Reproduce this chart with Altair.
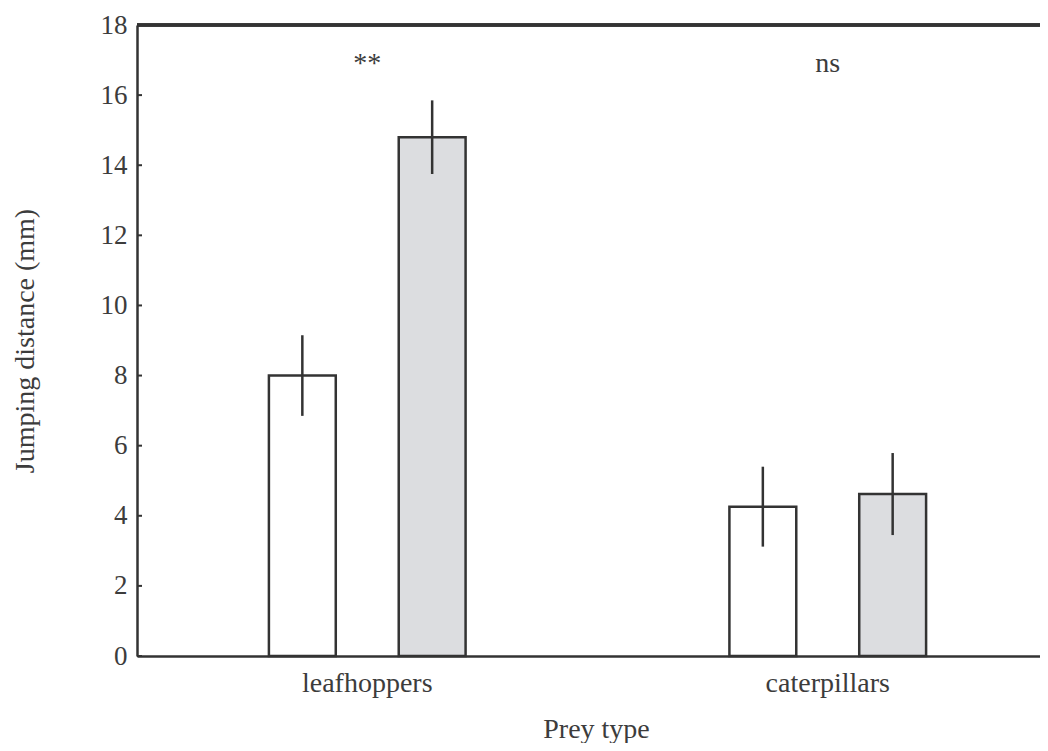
import altair as alt
import pandas as pd

prey = ["leafhoppers", "leafhoppers", "caterpillars", "caterpillars"]
group = ["A", "B", "A", "B"]
mean = [8.0, 14.8, 4.26, 4.62]
err = [1.15, 1.05, 1.14, 1.17]

cats = ["leafhoppers", "caterpillars"]
annot = ["**", "ns"]
yticks = [0, 2, 4, 6, 8, 10, 12, 14, 16, 18]

df = pd.DataFrame({"prey": prey, "group": group, "mean": mean, "err": err})
df["lo"] = df["mean"] - df["err"]
df["hi"] = df["mean"] + df["err"]
ann = pd.DataFrame({"prey": cats, "label": annot})
tk = pd.DataFrame({"v": yticks})

FONT = "Liberation Serif"
INK = "#333333"
TXT = "#3c3c3c"
FS = 28
W, H = 903, 631

xs = alt.Scale(domain=cats, range=[0, 921], paddingInner=0.3, paddingOuter=0.15)
xo = alt.Scale(domain=["A", "B"], paddingInner=0.485, paddingOuter=0.484)
ys = alt.Scale(domain=[0, 18], nice=False)

xaxis = alt.Axis(title="Prey type", labelFont=FONT, labelFontSize=FS, labelColor=TXT,
                 labelPadding=13, ticks=False, domainColor=INK, domainWidth=2.5,
                 labelAngle=0, titleFont=FONT, titleFontSize=FS, titleFontWeight="normal",
                 titleColor=TXT, titleX=459, titleY=81, titleBaseline="alphabetic",
                 titleAlign="center")
yaxis = alt.Axis(title="Jumping distance (mm)", values=yticks, labelFont=FONT,
                 labelFontSize=27, labelColor=TXT, labelPadding=10, ticks=False,
                 grid=False, domainColor=INK, domainWidth=2.5, titleFont=FONT,
                 titleFontSize=FS, titleFontWeight="normal", titleColor=TXT,
                 titleAngle=270, titleX=-112, titleY=315.5, titleBaseline="middle",
                 titleAlign="center")

base = alt.Chart(df)

bars = base.mark_bar(stroke=INK, strokeWidth=2.5).encode(
    x=alt.X("prey:N", scale=xs, axis=xaxis, sort=cats),
    xOffset=alt.XOffset("group:N", scale=xo),
    y=alt.Y("mean:Q", scale=ys, axis=yaxis),
    fill=alt.Fill("group:N", scale=alt.Scale(domain=["A", "B"], range=["#ffffff", "#dcdde0"]), legend=None),
)

errs = base.mark_rule(color=INK, strokeWidth=2.5).encode(
    x=alt.X("prey:N", scale=xs, sort=cats),
    xOffset=alt.XOffset("group:N", scale=xo),
    y=alt.Y("lo:Q", scale=ys),
    y2="hi:Q",
)

texts = alt.Chart(ann).mark_text(font=FONT, fontSize=FS, color=TXT, baseline="alphabetic").encode(
    x=alt.X("prey:N", scale=xs, sort=cats),
    y=alt.value(47),
    text="label:N",
)

ticks = alt.Chart(tk).mark_rule(color=INK, strokeWidth=2).encode(
    y=alt.Y("v:Q", scale=ys),
    x=alt.value(0),
    x2=alt.value(5),
)

top = alt.Chart(tk).mark_rule(color=INK, strokeWidth=2.5).encode(
    x=alt.value(0), x2=alt.value(W), y=alt.value(0),
)

chart = alt.layer(bars, errs, texts, ticks, top).properties(
    width=W, height=H,
    autosize=alt.AutoSizeParams(type="none"),
    padding={"left": 129, "top": 17, "right": 0, "bottom": 87},
).configure_view(stroke=None)

chart.save("out.html", embed_options={"renderer": "svg", "actions": False})
